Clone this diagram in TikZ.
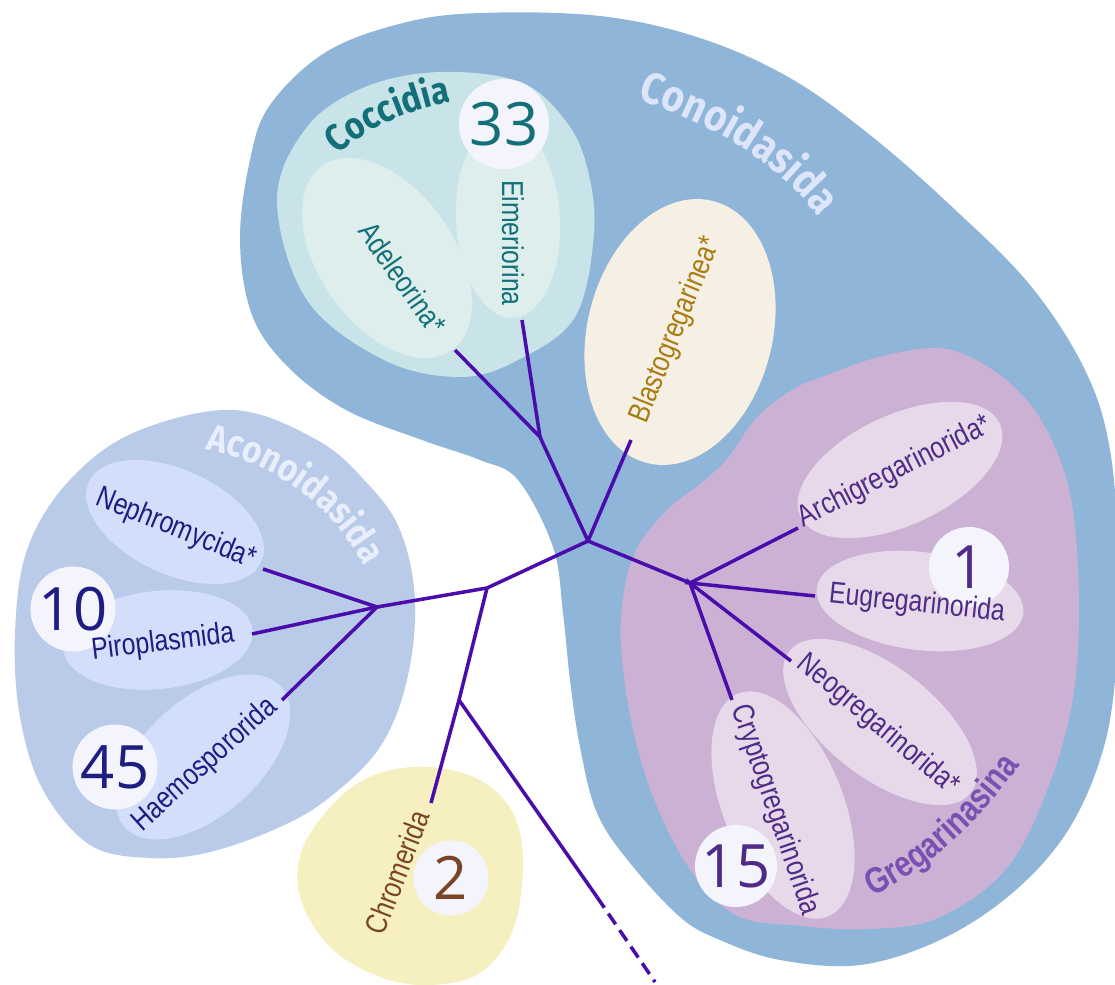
\documentclass[tikz,border=0pt]{standalone}
\usepackage{fontspec}
\setmainfont{Liberation Sans}
\newfontfamily\labelfont[FakeStretch=0.82]{Liberation Sans}
\newfontfamily\cladefont[FakeStretch=0.88]{Fira Sans}
\newfontfamily\numfont{Open Sans}
\usepackage{xcolor}
\usepackage{tikz}
\usetikzlibrary{shapes.geometric, decorations.text}

\definecolor{conoblue}{HTML}{8FB5D8}
\definecolor{coccibg}{HTML}{C9E4E8}
\definecolor{coccileaf}{HTML}{DDEEEC}
\definecolor{coccitext}{HTML}{136F78}
\definecolor{blastobg}{HTML}{F6EFE3}
\definecolor{blastotext}{HTML}{A87C12}
\definecolor{gregbg}{HTML}{CBB1D4}
\definecolor{gregleaf}{HTML}{E7D8EA}
\definecolor{gregtext}{HTML}{4E2B86}
\definecolor{gregtitle}{HTML}{7A50B0}
\definecolor{aconobg}{HTML}{B9CBE9}
\definecolor{aconoleaf}{HTML}{D3DFFA}
\definecolor{aconotext}{HTML}{1D1D82}
\definecolor{chromobg}{HTML}{F6F0C0}
\definecolor{chromotext}{HTML}{7A4526}
\definecolor{countfill}{HTML}{F4F4FC}
\definecolor{treeline}{HTML}{4A0CAA}
\definecolor{titlepale}{HTML}{DDE5FA}
\definecolor{titlewhite}{HTML}{E8EEFB}

\tikzset{
  leaf/.style={ellipse, inner sep=0pt},
  leaflabel/.style={font=\labelfont\fontsize{8.6}{10}\selectfont, inner sep=0pt},
  count/.style={circle, fill=countfill, inner sep=0pt, font=\numfont\fontsize{17}{20}\selectfont},
  branch/.style={draw=treeline, line width=1pt},
}

\begin{document}
\begin{tikzpicture}[x=0.01cm, y=-0.01cm]
    \useasboundingbox (0,0) rectangle (1115,985);

    % Clade backgrounds
    \fill[conoblue] plot[smooth cycle, tension=0.6] coordinates {
        (240,240) (250,160) (270,105) (326,52) (403,23) (480,13) (600,16)
        (700,38) (790,78) (870,135) (950,205) (1030,285) (1085,370) (1110,450)
        (1118,560) (1115,680) (1100,760) (1065,835) (1010,895) (940,940)
        (860,965) (780,960) (720,940) (680,917) (630,863) (597,813) (580,747)
        (570,680) (563,613) (553,547) (518,480) (480,460) (422,440) (346,410)
        (288,367) (252,315)};
    \fill[aconobg] plot[smooth cycle, tension=0.6] coordinates {
        (233,410) (317,440) (367,483) (400,530) (415,600) (407,680) (380,747)
        (330,797) (280,827) (210,852) (150,858) (90,845) (43,790) (20,717)
        (15,633) (27,550) (67,483) (133,433)};
    \fill[chromobg] plot[smooth cycle, tension=0.6] coordinates {
        (430,767) (480,780) (513,813) (523,863) (513,930) (480,973) (430,985)
        (380,977) (330,947) (300,897) (303,847) (340,797) (380,773)};
    \fill[coccibg] plot[smooth cycle, tension=0.6] coordinates {
        (277,200) (307,127) (365,87) (440,72) (520,82) (565,120) (587,167)
        (594,233) (575,317) (518,360) (460,377) (384,360) (307,300)};
    \fill[gregbg] plot[smooth cycle, tension=0.6] coordinates {
        (819,378) (887,355) (955,351) (1024,397) (1065,474) (1078,570)
        (1075,684) (1051,780) (1007,868) (938,918) (870,929) (802,926)
        (734,914) (682,857) (641,761) (621,646) (631,562) (665,512) (699,485)
        (727,459) (757,417) (792,390)};

    % Leaf ellipses
    \node[leaf, fill=coccileaf, minimum width=2.25cm, minimum height=1.35cm, rotate=-55] (adelbg) at (387,258) {};
    \node[leaf, fill=coccileaf, minimum width=1.96cm, minimum height=1.04cm, rotate=93] (eimebg) at (508,220) {};
    \node[leaf, fill=blastobg, minimum width=2.7cm, minimum height=1.85cm, rotate=76] (blastobg) at (680,332) {};
    \node[leaf, fill=aconoleaf, minimum width=1.9cm, minimum height=1.04cm, rotate=-25] (nephrobg) at (175,522) {};
    \node[leaf, fill=aconoleaf, minimum width=1.9cm, minimum height=0.98cm, rotate=6] (pirobg) at (158,640) {};
    \node[leaf, fill=aconoleaf, minimum width=2.1cm, minimum height=1.16cm, rotate=42] (haemobg) at (203,757) {};
    \node[leaf, fill=gregleaf, minimum width=2.2cm, minimum height=1.1cm, rotate=25] (archibg) at (900,470) {};
    \node[leaf, fill=gregleaf, minimum width=2.08cm, minimum height=0.98cm, rotate=-7] (eugbg) at (920,601) {};
    \node[leaf, fill=gregleaf, minimum width=2.3cm, minimum height=1.1cm, rotate=-38] (neobg) at (880,722) {};
    \node[leaf, fill=gregleaf, minimum width=2.4cm, minimum height=1.2cm, rotate=-68] (cryptobg) at (783,805) {};

    % Species counts
    \node[count, minimum size=0.9cm, text=coccitext] (n33) at (504,124) {33};
    \node[count, minimum size=0.85cm, text=aconotext] (n10) at (73,609) {10};
    \node[count, minimum size=0.85cm, text=aconotext] (n45) at (115,767) {45};
    \node[count, minimum size=0.8cm, text=gregtext] (n1) at (969,567) {1};
    \node[count, minimum size=0.82cm, text=gregtext] (n15) at (736,866) {15};
    \node[count, minimum size=0.75cm, text=chromotext] (n2) at (451,878) {2};

    % Tree
    \coordinate (hub) at (588,541);
    \coordinate (coccij) at (540,437);
    \coordinate (gregj) at (690,583);
    \coordinate (rootj) at (487,588);
    \coordinate (aconoj) at (377,607);
    \coordinate (chromj) at (459,700);
    \coordinate (adeltip) at (455,350);
    \coordinate (eimetip) at (522,320);
    \coordinate (blastotip) at (631,440);
    \coordinate (architip) at (798,528);
    \coordinate (eugtip) at (815,596);
    \coordinate (neotip) at (791,661);
    \coordinate (cryptotip) at (732,700);
    \coordinate (nephrotip) at (263,569);
    \coordinate (pirotip) at (252,634);
    \coordinate (haemotip) at (282,700);
    \coordinate (chromtip) at (431,803);
    \coordinate (outmid) at (597,897);
    \coordinate (outend) at (655,982);

    \draw[branch] (adeltip) -- (coccij) -- (hub);
    \draw[branch] (eimetip) -- (coccij);
    \draw[branch] (blastotip) -- (hub) -- (gregj);
    \draw[branch] (architip) -- (gregj) -- (eugtip);
    \draw[branch] (neotip) -- (gregj) -- (cryptotip);
    \draw[branch] (hub) -- (rootj) -- (aconoj);
    \draw[branch] (nephrotip) -- (aconoj) -- (pirotip);
    \draw[branch] (haemotip) -- (aconoj);
    \draw[branch] (rootj) -- (chromj) -- (chromtip);
    \draw[branch] (chromj) -- (outmid);
    \draw[branch, dash pattern=on 3.7pt off 2pt] (outmid) -- (outend);

    % Leaf labels
    \node[leaflabel, text=coccitext, rotate=-55] (adel) at (403,278) {Adeleorina*};
    \node[leaflabel, text=coccitext, rotate=-90] (eime) at (513,243) {Eimeriorina};
    \node[leaflabel, text=blastotext, rotate=68] (blasto) at (676,330) {Blastogregarinea*};
    \node[leaflabel, text=aconotext, rotate=-22] (nephro) at (176,529) {Nephromycida*};
    \node[leaflabel, text=aconotext, rotate=7] (piro) at (163,643) {Piroplasmida};
    \node[leaflabel, text=aconotext, rotate=42] (haemo) at (205,765) {Haemospororida};
    \node[leaflabel, text=gregtext, rotate=27] (archi) at (895,472) {Archigregarinorida*};
    \node[leaflabel, text=gregtext, rotate=-6] (eug) at (917,604) {Eugregarinorida};
    \node[leaflabel, text=gregtext, rotate=-40] (neo) at (878,725) {Neogregarinorida*};
    \node[leaflabel, text=gregtext, rotate=-71] (crypto) at (775,810) {Cryptogregarinorida};
    \node[leaflabel, text=chromotext, rotate=69] (chrom) at (397,872) {Chromerida};

    % Clade names
    \path[decorate, decoration={text along path, text align=center,
        text={|\cladefont\bfseries\fontsize{12.5}{15}\selectfont\color{titlepale}|Conoidasida}}]
        (612,93) .. controls (690,112) and (790,160) .. (832,240);
    \path[decorate, decoration={text along path, text align=center,
        text={|\cladefont\bfseries\fontsize{10.7}{12}\selectfont\color{coccitext}|Coccidia}}]
        (325,168) .. controls (350,135) and (410,105) .. (470,100);
    \path[decorate, decoration={text along path, text align=center,
        text={|\cladefont\bfseries\fontsize{10.7}{13}\selectfont\color{titlewhite}|Aconoidasida}}]
        (185,447) .. controls (255,452) and (340,500) .. (372,585);
    \path[decorate, decoration={text along path, text align=center,
        text={|\labelfont\bfseries\fontsize{10.3}{12}\selectfont\color{gregtitle}|Gregarinasina}}]
        (855,903) .. controls (920,880) and (985,820) .. (1030,750);
\end{tikzpicture}
\end{document}
